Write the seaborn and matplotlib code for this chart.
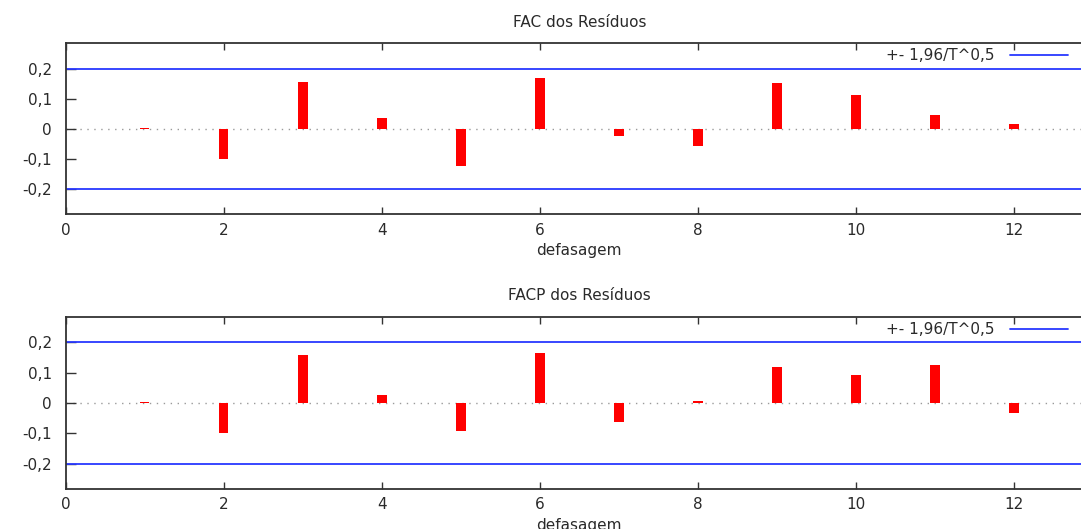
import matplotlib
matplotlib.use("Agg")
import matplotlib.pyplot as plt
import matplotlib.ticker as ticker
import seaborn as sns

# 데이터 - 잔차의 자기상관 / 편자기상관 (1~12 defasagem)
lags = [1, 2, 3, 4, 5, 6, 7, 8, 9, 10, 11, 12]
facValues = [0.003, -0.100, 0.155, 0.037, -0.122, 0.169, -0.023, -0.058, 0.152, 0.113, 0.048, 0.017]
facpValues = [0.002, -0.098, 0.160, 0.027, -0.094, 0.165, -0.064, 0.008, 0.118, 0.091, 0.126, -0.034]
band = 0.2  # +- 1,96/T^0,5
titles = ["FAC dos Resíduos", "FACP dos Resíduos"]
bandLabel = "+- 1,96/T^0,5"
xLabel = "defasagem"
xTicks = [0, 2, 4, 6, 8, 10, 12]
yTicks = [-0.2, -0.1, 0, 0.1, 0.2]

textColor = "#2a2a2a"
fontSize = 11


# 숫자 포맷 -> 소수점 쉼표
def commaFormat(v, pos):
    if abs(v) < 1e-9:
        return "0"
    return ("%g" % round(v, 2)).replace(".", ",")


# 패널 하나 그리는 함수
def drawPanel(ax, values, title):
    sns.barplot(x=lags, y=values, native_scale=True, width=0.12, color="#ff0000",
                saturation=1, linewidth=0, ax=ax)

    ax.axhline(0, color="#9a9a9a", lw=1, linestyle=(0, (1, 4)), zorder=0)
    ax.axhline(band, color="#2838ff", lw=1.3, label=bandLabel)
    ax.axhline(-band, color="#2838ff", lw=1.3)

    ax.set_xlim(0, 13)
    ax.set_ylim(-0.284, 0.285)
    ax.set_xticks(xTicks)
    ax.set_yticks(yTicks)
    ax.yaxis.set_major_formatter(ticker.FuncFormatter(commaFormat))

    ax.tick_params(axis="x", direction="in", length=5, width=1, top=True, bottom=True,
                   pad=6, labelsize=fontSize, labelcolor=textColor, color="#333333")
    ax.tick_params(axis="y", direction="in", length=7, width=1, left=True, right=False,
                   pad=10, labelsize=fontSize, labelcolor=textColor, color="#333333")
    for sp in ax.spines.values():
        sp.set_color("#333333")
        sp.set_linewidth(1.3)
        sp.set_visible(True)

    ax.set_title(title, fontsize=fontSize, color=textColor, pad=12)
    ax.set_xlabel(xLabel, fontsize=fontSize, color=textColor, labelpad=4)
    ax.set_ylabel("")


if __name__ == "__main__":
    sns.set_style("white")
    plt.rcParams["font.family"] = ["DejaVu Sans"]

    W, H = 1081, 529
    fig = plt.figure(figsize=(W / 100, H / 100), dpi=100)

    # 축 위치 (픽셀 기준) - 오른쪽은 그림 밖으로 잘림
    left = 65.7 / W
    width = (1093 - 65.7) / W
    axTop = fig.add_axes([left, 1 - 214.3 / H, width, (214.3 - 43.3) / H])
    axBottom = fig.add_axes([left, 1 - 489 / H, width, (489 - 316.7) / H])

    for ax, vals, title, yLeg in [(axTop, facValues, titles[0], 56),
                                  (axBottom, facpValues, titles[1], 330)]:
        drawPanel(ax, vals, title)
        ax.legend(loc="center right", bbox_to_anchor=(1068 / W, 1 - yLeg / H),
                  bbox_transform=fig.transFigure, frameon=False, markerfirst=False,
                  fontsize=fontSize, handlelength=3.8, handletextpad=1.0,
                  borderpad=0, borderaxespad=0, labelcolor=textColor)

    fig.savefig("out.png", dpi=100)
